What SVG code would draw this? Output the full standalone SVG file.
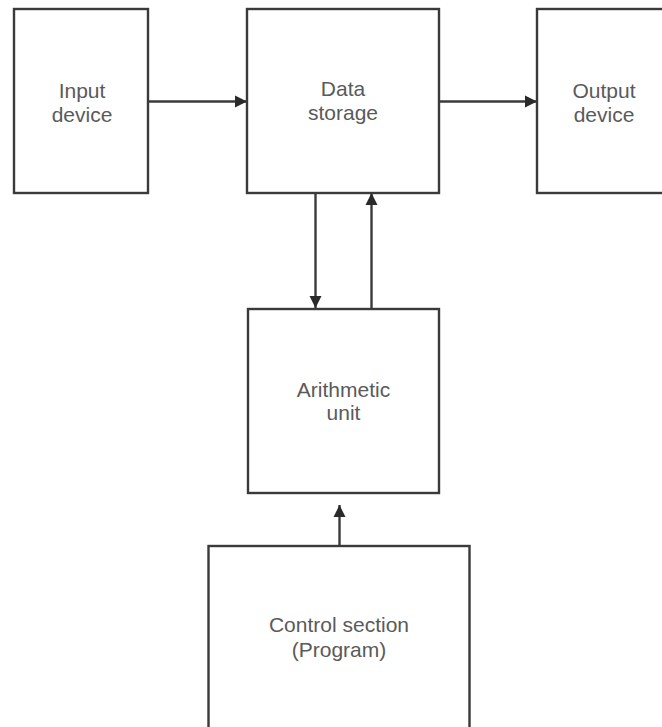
<svg xmlns="http://www.w3.org/2000/svg" width="662" height="727" viewBox="0 0 662 727">
  <style>
    .box { fill: #ffffff; stroke: #3a3a3a; stroke-width: 2.4; }
    .label { font-family: "Liberation Sans", Arial, sans-serif; font-size: 21px; fill: #5a5a5a; text-anchor: middle; }
    .wire { fill: none; stroke: #3a3a3a; stroke-width: 2.4; }
  </style>
  <defs>
    <marker id="arrow" markerUnits="userSpaceOnUse" markerWidth="13" markerHeight="13" refX="12" refY="6.5" orient="auto">
      <path d="M0,0.5 L12,6.5 L0,12.5 Z" fill="#2a2a2a"/>
    </marker>
  </defs>
  <rect width="662" height="727" fill="#ffffff"/>

  <g id="connectors">
    <line class="wire" x1="148" y1="101.5" x2="247" y2="101.5" marker-end="url(#arrow)"/>
    <line class="wire" x1="439" y1="101.5" x2="537" y2="101.5" marker-end="url(#arrow)"/>
    <line class="wire" x1="315.5" y1="193" x2="315.5" y2="308" marker-end="url(#arrow)"/>
    <line class="wire" x1="371.5" y1="308" x2="371.5" y2="193" marker-end="url(#arrow)"/>
    <line class="wire" x1="339.5" y1="546" x2="339.5" y2="505" marker-end="url(#arrow)"/>
  </g>

  <g id="input-device">
    <rect class="box" x="14" y="9" width="134" height="184"/>
    <text class="label" x="82" y="97.5">Input</text>
    <text class="label" x="82" y="121.5">device</text>
  </g>

  <g id="data-storage">
    <rect class="box" x="247" y="9" width="192" height="184"/>
    <text class="label" x="343" y="96">Data</text>
    <text class="label" x="343" y="119.5">storage</text>
  </g>

  <g id="output-device">
    <rect class="box" x="537" y="9" width="134" height="184"/>
    <text class="label" x="604" y="97.5">Output</text>
    <text class="label" x="604" y="121.5">device</text>
  </g>

  <g id="arithmetic-unit">
    <rect class="box" x="248" y="309" width="191" height="184"/>
    <text class="label" x="343.5" y="396.5">Arithmetic</text>
    <text class="label" x="343.5" y="420">unit</text>
  </g>

  <g id="control-section">
    <rect class="box" x="208.5" y="546" width="261" height="200"/>
    <text class="label" x="339" y="632">Control section</text>
    <text class="label" x="339" y="656.5">(Program)</text>
  </g>
</svg>
